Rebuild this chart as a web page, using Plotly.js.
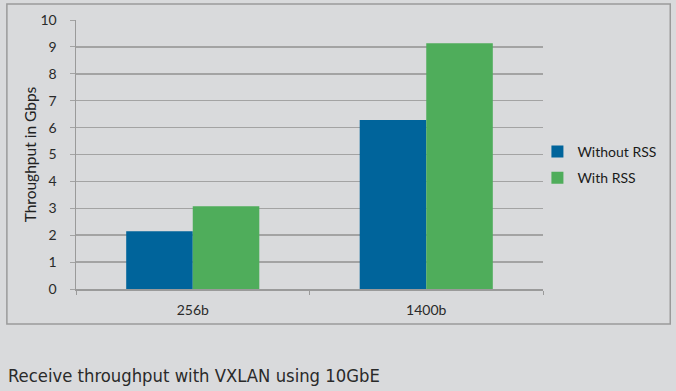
<!DOCTYPE html>
<html><head><meta charset="utf-8">
<script src="https://cdn.plot.ly/plotly-3.0.1.min.js"></script>
<style>html,body{margin:0;padding:0;background:#d9dadc;}#chart{width:676px;height:391px;}</style>
</head><body><div id="chart"></div>
<script>
const categories = ["256b", "1400b"];
const withoutRSS = [2.15, 6.28];
const withRSS = [3.08, 9.14];
const yTicks = [0,1,2,3,4,5,6,7,8,9,10];
const caption = "Receive throughput with VXLAN using 10GbE";

const data = [
  {type:'bar', name:'Without RSS', legendgroup:'a', x:categories, y:withoutRSS, marker:{color:'#00649b'}},
  {type:'bar', name:'With RSS', legendgroup:'b', x:categories, y:withRSS, marker:{color:'#4fad5b'}}
];
const layout = {
  width:676, height:391,
  paper_bgcolor:'#d9dadc', plot_bgcolor:'#d9dadc',
  margin:{l:76, r:133, t:20, b:102, autoexpand:false},
  barmode:'group', bargap:0.43, bargroupgap:0,
  font:{family:'Lato, "Open Sans", sans-serif', color:'#2a2a2a'},
  xaxis:{showgrid:false, showline:true, linecolor:'#9a9a9a', linewidth:1.5,
         ticks:'outside', tickson:'boundaries', ticklen:4, tickcolor:'#9a9a9a',
         ticklabelstandoff:8, tickfont:{size:14, color:'#2a2a2a'}},
  yaxis:{range:[0,10], tickvals:yTicks, showgrid:true, gridcolor:'#a3a3a3', gridwidth:1.5,
         showline:true, linecolor:'#9a9a9a', linewidth:1.5, zeroline:false,
         ticks:'outside', ticklen:5, tickcolor:'#a3a3a3', ticklabelstandoff:10,
         tickfont:{size:14, color:'#2a2a2a'},
         title:{text:'Throughput in Gbps', font:{size:15.5, color:'#222'}, standoff:0}},
  showlegend:true,
  legend:{xref:'container', yref:'container', x:0.795, y:0.578, xanchor:'left', yanchor:'middle',
          bgcolor:'rgba(0,0,0,0)', font:{size:14, color:'#1a1a1a'}, tracegroupgap:5},
  shapes:[{type:'rect', xref:'paper', yref:'paper', x0:-0.148, x1:1.2725, y0:-0.130, y1:1.0595,
           line:{color:'#9a9a9a', width:1.5}, fillcolor:'rgba(0,0,0,0)', layer:'below'}],
  annotations:[{text:caption, xref:'paper', yref:'paper', x:-0.150, y:-0.323, xanchor:'left', yanchor:'middle',
                showarrow:false, font:{family:'"DejaVu Sans Condensed", "DejaVu Sans", sans-serif', size:18.3, color:'#2a2a2a'}}]
};
Plotly.newPlot('chart', data, layout, {displayModeBar:false, staticPlot:true});
</script></body></html>
